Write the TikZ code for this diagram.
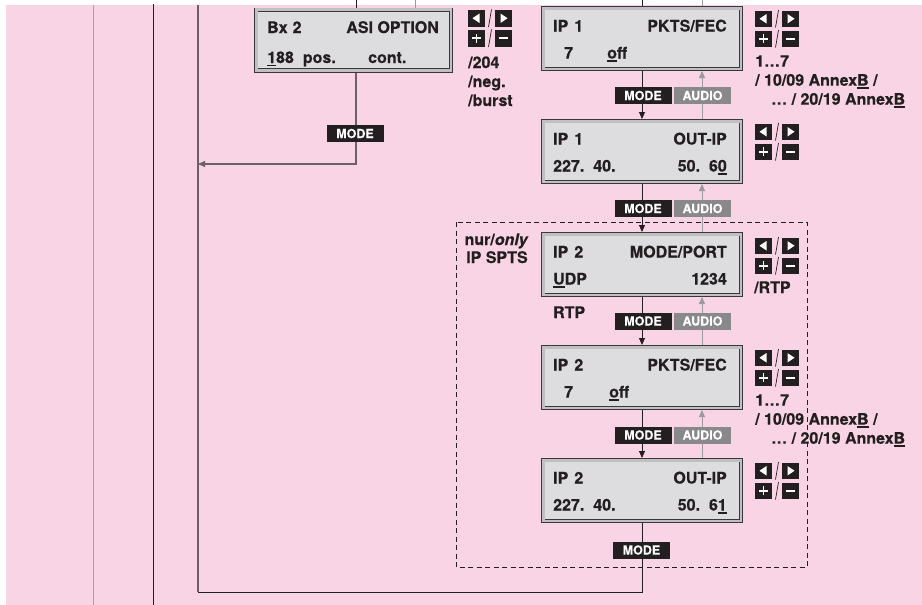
\documentclass[tikz,border=0pt]{standalone}
\usepackage{fontspec}
\setmainfont{TeX Gyre Heros}[BoldFeatures={FakeBold=0.4},BoldItalicFeatures={FakeBold=0.4}]
\usetikzlibrary{arrows.meta}
\definecolor{bgpink}{RGB}{249,212,228}
\definecolor{ink}{RGB}{35,31,32}
\definecolor{lcdfill}{RGB}{221,221,224}
\definecolor{lcdband}{RGB}{192,192,195}
\definecolor{lcdline}{RGB}{58,56,58}
\definecolor{audiogray}{RGB}{137,136,139}
\definecolor{uparrow}{RGB}{155,155,158}
\definecolor{loopgray}{RGB}{108,96,102}
\definecolor{leftgray}{RGB}{168,162,165}
\newcommand\uln[1]{\setbox0=\hbox{#1}\rlap{\rule[-3pt]{\wd0}{1.5pt}}#1}
\tikzset{
  lcd/.style={draw=lcdline, line width=0.9pt, double=lcdband, double distance=2.6pt,
    fill=lcdfill, minimum width=197.6pt, minimum height=60.6pt, inner sep=0pt, outer sep=2.2pt},
  txt/.style={font=\bfseries\fontsize{16}{19}\selectfont, text=ink, inner sep=0pt},
  modekey/.style={fill=ink, text=white, font=\bfseries\fontsize{12.5}{14}\selectfont,
    minimum width=57pt, minimum height=17pt, inner sep=0pt},
  audiokey/.style={modekey, fill=audiogray},
  dnarrow/.style={draw=ink, line width=0.9pt, -{Triangle[length=7pt,width=6pt]}},
  uparr/.style={draw=uparrow, line width=0.9pt, -{Triangle[length=7pt,width=6pt]}},
  keypad/.pic={
    \fill[ink] (0,0) rectangle (17,16.5);
    \fill[white] (4.5,8.25) -- (11.5,3.5) -- (11.5,13) -- cycle;
    \draw[ink, line width=0.7pt] (20.5,17) -- (23.5,-0.5);
    \fill[ink] (27,0) rectangle (44,16.5);
    \fill[white] (39.5,8.25) -- (32.5,3.5) -- (32.5,13) -- cycle;
    \fill[ink] (0,20) rectangle (17,36.5);
    \fill[white] (4,27.3) rectangle (13,29.2);
    \fill[white] (7.55,23.8) rectangle (9.45,32.7);
    \draw[ink, line width=0.7pt] (20.5,37) -- (23.5,19.5);
    \fill[ink] (27,20) rectangle (44,36.5);
    \fill[white] (31,27.3) rectangle (40,29.3);
  }
}
\begin{document}
\begin{tikzpicture}[x=1pt,y=-1pt]
\useasboundingbox (0,0) rectangle (922,605);
\fill[white] (0,0) rectangle (922,605);
\fill[bgpink] (6,5) rectangle (922,605);

% left vertical lines
\coordinate (l1t) at (93,5);  \coordinate (l1b) at (93,605);
\coordinate (l2t) at (153,4); \coordinate (l2b) at (153,605);
\draw[leftgray, line width=1pt] (l1t) -- (l1b);
\draw[ink, line width=1pt] (l2t) -- (l2b);

% loop line
\coordinate (loopTop) at (198,5);
\coordinate (loopBot) at (198,592);
\coordinate (arrL) at (198,164);
\draw[loopgray, line width=1.2pt] (loopTop) -- (loopBot);

% dashed frame
\draw[ink, line width=0.9pt, dash pattern=on 5pt off 3.5pt] (456,222) rectangle (807,567);

% LCD boxes
\node[lcd, minimum width=194.6pt] (asi) at (353.5,40) {};
\node[lcd] (ip1a) at (642,38.5) {};
\node[lcd] (ip1b) at (642,151.5) {};
\node[lcd] (ip2a) at (642,264.5) {};
\node[lcd] (ip2b) at (642,377.5) {};
\node[lcd] (ip2c) at (642,490.5) {};

% incoming ticks at the top
\coordinate (ta1) at (356,0); \coordinate (ta2) at (415,0);
\coordinate (tb1) at (642,0); \coordinate (tb2) at (702,0);
\draw[ink, line width=0.9pt] (ta1) -- ([xshift=2.5pt]asi.north);
\draw[uparrow, line width=0.9pt] (ta2) -- ([xshift=61.5pt]asi.north);
\draw[ink, line width=0.9pt] (tb1) -- (ip1a.north);
\draw[uparrow, line width=0.9pt] (tb2) -- ([xshift=60pt]ip1a.north);

% ASI exit
\draw[loopgray, line width=1.1pt, -{Triangle[length=7pt,width=6pt]}] ([xshift=2.5pt]asi.south) |- (arrL);

% chain connectors
\draw[dnarrow] (ip1a.south) -- (ip1b.north);
\draw[uparr] ([xshift=60pt]ip1b.north) -- ([xshift=60pt]ip1a.south);
\draw[dnarrow] (ip1b.south) -- (ip2a.north);
\draw[uparr] ([xshift=60pt]ip2a.north) -- ([xshift=60pt]ip1b.south);
\draw[dnarrow] (ip2a.south) -- (ip2b.north);
\draw[uparr] ([xshift=60pt]ip2b.north) -- ([xshift=60pt]ip2a.south);
\draw[dnarrow] (ip2b.south) -- (ip2c.north);
\draw[uparr] ([xshift=60pt]ip2c.north) -- ([xshift=60pt]ip2b.south);
\draw[ink, line width=0.9pt] (ip2c.south) |- (loopBot);

% key labels
\node[modekey] (m0) at (355,133.5) {MODE};
\node[modekey] (m1) at (643,95.5) {MODE};
\node[audiokey] (a1) at (702.5,95.5) {AUDIO};
\node[modekey] (m2) at (643,208.5) {MODE};
\node[audiokey] (a2) at (702.5,208.5) {AUDIO};
\node[modekey] (m3) at (643,321) {MODE};
\node[audiokey] (a3) at (702.5,321) {AUDIO};
\node[modekey] (m4) at (643,435) {MODE};
\node[audiokey] (a4) at (702.5,435) {AUDIO};
\node[modekey] (m5) at (641.5,550) {MODE};

% keypads
\pic at (468,10) {keypad};
\pic at (755,10.5) {keypad};
\pic at (755,123.5) {keypad};
\pic at (755,237.5) {keypad};
\pic at (755,349.5) {keypad};
\pic at (755,462.5) {keypad};

% ASI box texts
\node[txt, anchor=base west] (asiA) at (267,33) {Bx\hspace{5pt}2};
\node[txt, anchor=base east] (asiB) at (439,33) {ASI OPTION};
\node[txt, anchor=base west] (asiC) at (267,63) {\uln{1}88\hspace{9pt}pos.};
\node[txt, anchor=base west] (asiD) at (368,63) {cont.};
\node[txt, anchor=base west] (asiE) at (468,68) {/204};
\node[txt, anchor=base west] (asiF) at (468,87) {/neg.};
\node[txt, anchor=base west] (asiG) at (468,106) {/burst};

% IP 1 PKTS/FEC
\node[txt, anchor=base west] (t1a) at (553,31.5) {IP\hspace{6pt}1};
\node[txt, anchor=base east] (t1b) at (727,31.5) {PKTS/FEC};
\node[txt, anchor=base west] (t1c) at (564,58.5) {7};
\node[txt, anchor=base west] (t1d) at (607,58.5) {\uln{o}ff};
\node[txt, anchor=base west] (s1a) at (755,66.7) {1…7};
\node[txt, anchor=base west] (s1b) at (755,85.7) {/ 10/09 Annex\uln{B} /};
\node[txt, anchor=base west] (s1c) at (771,104.7) {… / 20/19 Annex\uln{B}};

% IP 1 OUT-IP
\node[txt, anchor=base west] (t2a) at (553,144.5) {IP\hspace{6pt}1};
\node[txt, anchor=base east] (t2b) at (727,144.5) {OUT-IP};
\node[txt, anchor=base west] (t2c) at (553,171.5) {227.\hspace{9pt}40.};
\node[txt, anchor=base east] (t2d) at (727,171.5) {50.\hspace{9pt}6\uln{0}};

% IP 2 MODE/PORT
\node[txt, anchor=base] (nur) at (496.5,245) {nur/\textit{only}};
\node[txt, anchor=base] (spts) at (497,263) {IP SPTS};
\node[txt, anchor=base west] (t3a) at (553,257.5) {IP\hspace{6pt}2};
\node[txt, anchor=base east] (t3b) at (727,257.5) {MODE/PORT};
\node[txt, anchor=base west] (t3c) at (553,284.5) {\uln{U}DP};
\node[txt, anchor=base east] (t3d) at (727,284.5) {1234};
\node[txt, anchor=base west] (s3a) at (754,293) {/RTP};
\node[txt, anchor=base west] (rtp) at (553,318) {RTP};

% IP 2 PKTS/FEC
\node[txt, anchor=base west] (t4a) at (553,370.5) {IP\hspace{6pt}2};
\node[txt, anchor=base east] (t4b) at (727,370.5) {PKTS/FEC};
\node[txt, anchor=base west] (t4c) at (564,397.5) {7};
\node[txt, anchor=base west] (t4d) at (609,397.5) {\uln{o}ff};
\node[txt, anchor=base west] (s4a) at (755,405.7) {1…7};
\node[txt, anchor=base west] (s4b) at (755,424.7) {/ 10/09 Annex\uln{B} /};
\node[txt, anchor=base west] (s4c) at (771,443.7) {… / 20/19 Annex\uln{B}};

% IP 2 OUT-IP
\node[txt, anchor=base west] (t5a) at (553,483.5) {IP\hspace{6pt}2};
\node[txt, anchor=base east] (t5b) at (727,483.5) {OUT-IP};
\node[txt, anchor=base west] (t5c) at (553,510.5) {227.\hspace{9pt}40.};
\node[txt, anchor=base east] (t5d) at (727,510.5) {50.\hspace{9pt}6\uln{1}};
\end{tikzpicture}
\end{document}
